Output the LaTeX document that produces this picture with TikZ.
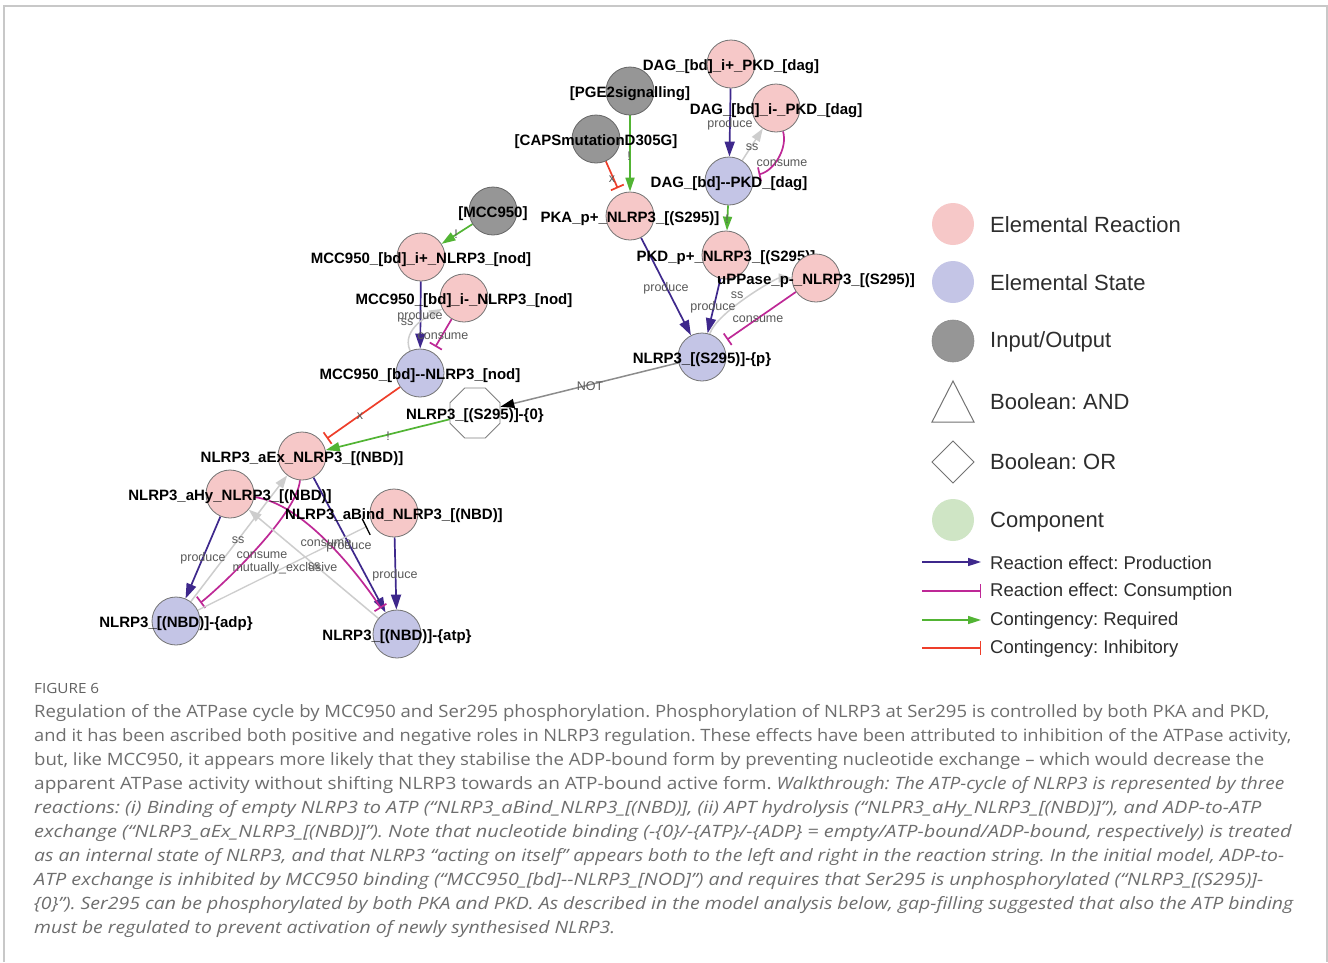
\documentclass[tikz,border=0pt]{standalone}
\usepackage{fontspec}
\setmainfont{Liberation Sans}
\newfontfamily\capfont{Open Sans}
\usepackage{graphicx}
\usetikzlibrary{arrows.meta,shapes.geometric}
\pgfdeclarelayer{bgpaper}
\pgfdeclarelayer{edges}
\pgfsetlayers{bgpaper,edges,main}
\definecolor{rxn}{RGB}{246,200,200}
\definecolor{st}{RGB}{196,197,230}
\definecolor{io}{RGB}{150,150,150}
\definecolor{comp}{RGB}{207,229,197}
\definecolor{prod}{RGB}{62,40,140}
\definecolor{cons}{RGB}{190,40,150}
\definecolor{req}{RGB}{82,180,52}
\definecolor{inh}{RGB}{238,62,42}
\definecolor{ssc}{RGB}{205,205,205}
\definecolor{capc}{RGB}{110,110,110}
\definecolor{legc}{RGB}{45,45,45}
\definecolor{framec}{RGB}{200,200,200}
\newcommand\capfit[2]{\resizebox{#1}{\height}{#2}}
\frenchspacing
\begin{document}
\begin{tikzpicture}[x=1pt,y=-1pt,
  circ/.style={circle, minimum size=48pt, inner sep=0pt, draw=black!55, line width=0.8pt},
  rxnnode/.style={circ, fill=rxn},
  stnode/.style={circ, fill=st},
  ionode/.style={circ, fill=io, draw=black!60},
  octnode/.style={regular polygon, regular polygon sides=8, minimum size=54pt, inner sep=0pt, draw=black!50, line width=0.8pt, fill=white},
  nlbl/.style={font=\fontsize{15}{17}\selectfont\bfseries, text=black, inner sep=0pt, yshift=-3pt},
  elbl/.style={font=\fontsize{12.5}{14}\selectfont, text=black!65, inner sep=0pt},
  prodE/.style={draw=prod, line width=1.7pt, -{Triangle[length=15pt,width=10pt]}},
  consE/.style={draw=cons, line width=1.7pt, -{Bar[width=14pt]}, shorten >=6pt},
  reqE/.style={draw=req, line width=1.7pt, -{Triangle[length=14pt,width=9pt]}},
  inhE/.style={draw=inh, line width=1.7pt, -{Bar[width=14pt]}, shorten >=6pt},
  ssE/.style={draw=ssc, line width=1.5pt, -{Triangle[length=13pt,width=9pt]}},
  notE/.style={draw=black!45, line width=1.5pt, -{Triangle[length=14pt,width=9pt,color=black]}},
  mexE/.style={draw=ssc, line width=1.3pt, -{Bar[width=18pt,color=black]}, shorten >=6pt},
  legcirc/.style={circle, minimum size=42pt, inner sep=0pt},
  legtxt/.style={anchor=west, font=\fontsize{22}{24}\selectfont, text=legc, inner sep=0pt},
  legtxts/.style={anchor=west, font=\fontsize{18.5}{20}\selectfont, text=legc, inner sep=0pt},
  capst/.style={anchor=base west, inner sep=0pt, font=\capfont\fontsize{17}{24}\selectfont, text=capc}]
\useasboundingbox (0,0) rectangle (1328,962);
\begin{pgfonlayer}{bgpaper}
\fill[white] (0,0) rectangle (1328,962);
\draw[framec, line width=1.2pt] (4,962) -- (4,6) -- (1327,6) -- (1327,962);
\end{pgfonlayer}

% ---------- graph nodes ----------
\node[ionode, label={[nlbl]center:{[PGE2signalling]}}] (pge) at (630,91) {};
\node[rxnnode, label={[nlbl]center:{DAG\_[bd]\_i+\_PKD\_[dag]}}] (dagp) at (731,64) {};
\node[ionode, label={[nlbl]center:{[CAPSmutationD305G]}}] (caps) at (596,139) {};
\node[rxnnode, label={[nlbl]center:{DAG\_[bd]\_i-\_PKD\_[dag]}}] (dagm) at (776,108) {};
\node[stnode, label={[nlbl]center:{DAG\_[bd]-{}-PKD\_[dag]}}] (dagpkd) at (729,181) {};
\node[ionode, label={[nlbl]center:{[MCC950]}}] (mcc) at (493,211) {};
\node[rxnnode, label={[nlbl]center:{PKA\_p+\_NLRP3\_[(S295)]}}] (pka) at (630,216) {};
\node[rxnnode, label={[nlbl]center:{MCC950\_[bd]\_i+\_NLRP3\_[nod]}}] (mccip) at (421,257) {};
\node[rxnnode, label={[nlbl]center:{PKD\_p+\_NLRP3\_[(S295)]}}] (pkd) at (726,255) {};
\node[rxnnode, label={[nlbl]center:{uPPase\_p-\_NLRP3\_[(S295)]}}] (upp) at (816,278) {};
\node[rxnnode, label={[nlbl]center:{MCC950\_[bd]\_i-\_NLRP3\_[nod]}}] (mccim) at (464,298) {};
\node[stnode, label={[nlbl]center:{NLRP3\_[(S295)]-\{p\}}}] (nlp) at (702,357) {};
\node[stnode, label={[nlbl]center:{MCC950\_[bd]-{}-NLRP3\_[nod]}}] (mccn) at (420,373) {};
\node[octnode, label={[nlbl]center:{NLRP3\_[(S295)]-\{0\}}}] (oct) at (475,413) {};
\node[rxnnode, label={[nlbl]center:{NLRP3\_aEx\_NLRP3\_[(NBD)]}}] (aex) at (302,456) {};
\node[rxnnode, label={[nlbl]center:{NLRP3\_aHy\_NLRP3\_[(NBD)]}}] (ahy) at (230,494) {};
\node[rxnnode, label={[nlbl]center:{NLRP3\_aBind\_NLRP3\_[(NBD)]}}] (abind) at (394,513) {};
\node[stnode, label={[nlbl]center:{NLRP3\_[(NBD)]-\{adp\}}}] (adp) at (176,621) {};
\node[stnode, label={[nlbl]center:{NLRP3\_[(NBD)]-\{atp\}}}] (atp) at (397,634) {};

% ---------- edges ----------
\begin{pgfonlayer}{edges}
\draw[prodE] (dagp) -- (dagpkd);
\draw[ssE] (dagpkd) -- (dagm);
\draw[consE] (dagm) .. controls +(12,40) and +(45,-10) .. (dagpkd);
\draw[reqE] (pge) -- (pka);
\draw[inhE] (caps) -- (pka);
\draw[reqE] (dagpkd) -- (pkd);
\draw[prodE] (pka) -- (nlp);
\draw[prodE] (pkd) -- (nlp);
\draw[ssE] (nlp) .. controls +(15,-45) and +(-40,0) .. (upp);
\draw[consE] (upp) -- (nlp);
\draw[notE] (nlp) -- (oct);
\draw[reqE] (mcc) -- (mccip);
\draw[prodE] (mccip) -- (mccn);
\draw[ssE] (mccn) .. controls +(-20,-45) and +(-30,15) .. (mccim);
\draw[consE] (mccim) -- (mccn);
\draw[inhE] (mccn) -- (aex);
\draw[reqE] (oct) -- (aex);
\draw[prodE] (aex) -- (atp);
\draw[consE] (aex) .. controls +(-5,60) and +(40,-30) .. (adp);
\draw[prodE] (ahy) -- (adp);
\draw[consE] (ahy) .. controls +(80,10) and +(-25,-40) .. (atp);
\draw[ssE] (adp) -- (aex);
\draw[ssE] (atp) -- (ahy);
\draw[prodE] (abind) -- (atp);
\draw[mexE] (adp) -- (abind);
\end{pgfonlayer}

% ---------- edge labels ----------
\node[elbl] (l1) at (730,124) {produce};
\node[elbl] (l2) at (752,147) {ss};
\node[elbl] (l3) at (782,163) {consume};
\node[elbl] (l4) at (629,156) {!};
\node[elbl] (l5) at (612,179) {x};
\node[elbl] (l6) at (727,219) {!};
\node[elbl] (l7) at (666,288) {produce};
\node[elbl] (l8) at (713,307) {produce};
\node[elbl] (l9) at (737,295) {ss};
\node[elbl] (l10) at (758,319) {consume};
\node[elbl] (l11) at (590,386) {NOT};
\node[elbl] (l12) at (456,234) {!};
\node[elbl] (l13) at (420,316) {produce};
\node[elbl] (l14) at (407,322) {ss};
\node[elbl] (l15) at (443,336) {consume};
\node[elbl] (l16) at (360,416) {x};
\node[elbl] (l17) at (388,436) {!};
\node[elbl] (l18) at (238,540) {ss};
\node[elbl] (l19) at (262,555) {consume};
\node[elbl] (l20) at (285,568) {mutually\_exclusive};
\node[elbl] (l21) at (203,558) {produce};
\node[elbl] (l22) at (326,543) {consume};
\node[elbl] (l23) at (349,546) {produce};
\node[elbl] (l24) at (314,566) {ss};
\node[elbl] (l25) at (395,575) {produce};

% ---------- legend ----------
\node[legcirc, fill=rxn] (k1) at (953,224) {};
\node[legcirc, fill=st] (k2) at (953,282) {};
\node[legcirc, fill=io, draw=black!45, line width=0.6pt] (k3) at (953,341) {};
\draw[black!55, line width=1pt] (953,381) -- (932,422) -- (974,422) -- cycle;
\draw[black!55, line width=1pt] (953,441) -- (974,462) -- (953,483) -- (932,462) -- cycle;
\node[legcirc, fill=comp] (k6) at (953,520) {};
\node[legtxt] (t1) at (990,225) {Elemental Reaction};
\node[legtxt] (t2) at (990,283) {Elemental State};
\node[legtxt] (t3) at (990,342) {Input/Output};
\node[legtxt] (t4) at (990,402) {Boolean: AND};
\node[legtxt] (t5) at (990,462) {Boolean: OR};
\node[legtxt] (t6) at (990,522) {Component};
\coordinate (a1) at (922,562); \coordinate (b1) at (981,562);
\coordinate (a2) at (922,591); \coordinate (b2) at (981,591);
\coordinate (a3) at (922,620); \coordinate (b3) at (981,620);
\coordinate (a4) at (922,648); \coordinate (b4) at (981,648);
\draw[draw=prod, line width=1.5pt, -{Triangle[length=13pt,width=8pt]}] (a1) -- (b1);
\draw[draw=cons, line width=1.5pt, -{Bar[width=14pt]}] (a2) -- (b2);
\draw[draw=req, line width=1.5pt, -{Triangle[length=13pt,width=8pt]}] (a3) -- (b3);
\draw[draw=inh, line width=1.5pt, -{Bar[width=14pt]}] (a4) -- (b4);
\node[legtxts] (t7) at (990,563) {Reaction effect: Production};
\node[legtxts] (t8) at (990,592) {Reaction effect: Consumption};
\node[legtxts] (t9) at (990,621) {Contingency: Required};
\node[legtxts] (t10) at (990,649) {Contingency: Inhibitory};

% ---------- caption ----------
\node[capst, font=\capfont\fontsize{14}{16}\selectfont, text=black!62] (fig) at (34,693) {\capfit{65pt}{FIGURE 6}};
\node[capst] (c1) at (34,717) {\capfit{1235pt}{Regulation of the ATPase cycle by MCC950 and Ser295 phosphorylation. Phosphorylation of NLRP3 at Ser295 is controlled by both PKA and PKD,}};
\node[capst] (c2) at (34,741) {\capfit{1257pt}{and it has been ascribed both positive and negative roles in NLRP3 regulation. These effects have been attributed to inhibition of the ATPase activity,}};
\node[capst] (c3) at (34,765) {\capfit{1230pt}{but, like MCC950, it appears more likely that they stabilise the ADP-bound form by preventing nucleotide exchange – which would decrease the}};
\node[capst] (c4) at (34,789) {\capfit{1250pt}{apparent ATPase activity without shifting NLRP3 towards an ATP-bound active form. \itshape Walkthrough: The ATP-cycle of NLRP3 is represented by three}};
\node[capst] (c5) at (34,813) {\capfit{1227pt}{\itshape reactions: (i) Binding of empty NLRP3 to ATP (“NLRP3\_aBind\_NLRP3\_[(NBD)], (ii) APT hydrolysis (“NLPR3\_aHy\_NLRP3\_[(NBD)]”), and ADP-to-ATP}};
\node[capst] (c6) at (34,837) {\capfit{1257pt}{\itshape exchange (“NLRP3\_aEx\_NLRP3\_[(NBD)]”). Note that nucleotide binding (-\{0\}/-\{ATP\}/-\{ADP\} = empty/ATP-bound/ADP-bound, respectively) is treated}};
\node[capst] (c7) at (34,861) {\capfit{1250pt}{\itshape as an internal state of NLRP3, and that NLRP3 “acting on itself” appears both to the left and right in the reaction string. In the initial model, ADP-to-}};
\node[capst] (c8) at (34,885) {\capfit{1229pt}{\itshape ATP exchange is inhibited by MCC950 binding (“MCC950\_[bd]-{}-NLRP3\_[NOD]”) and requires that Ser295 is unphosphorylated (“NLRP3\_[(S295)]-}};
\node[capst] (c9) at (34,909) {\capfit{1259pt}{\itshape \{0\}”). Ser295 can be phosphorylated by both PKA and PKD. As described in the model analysis below, gap-filling suggested that also the ATP binding}};
\node[capst] (c10) at (34,933) {\capfit{581pt}{\itshape must be regulated to prevent activation of newly synthesised NLRP3.}};
\end{tikzpicture}
\end{document}
